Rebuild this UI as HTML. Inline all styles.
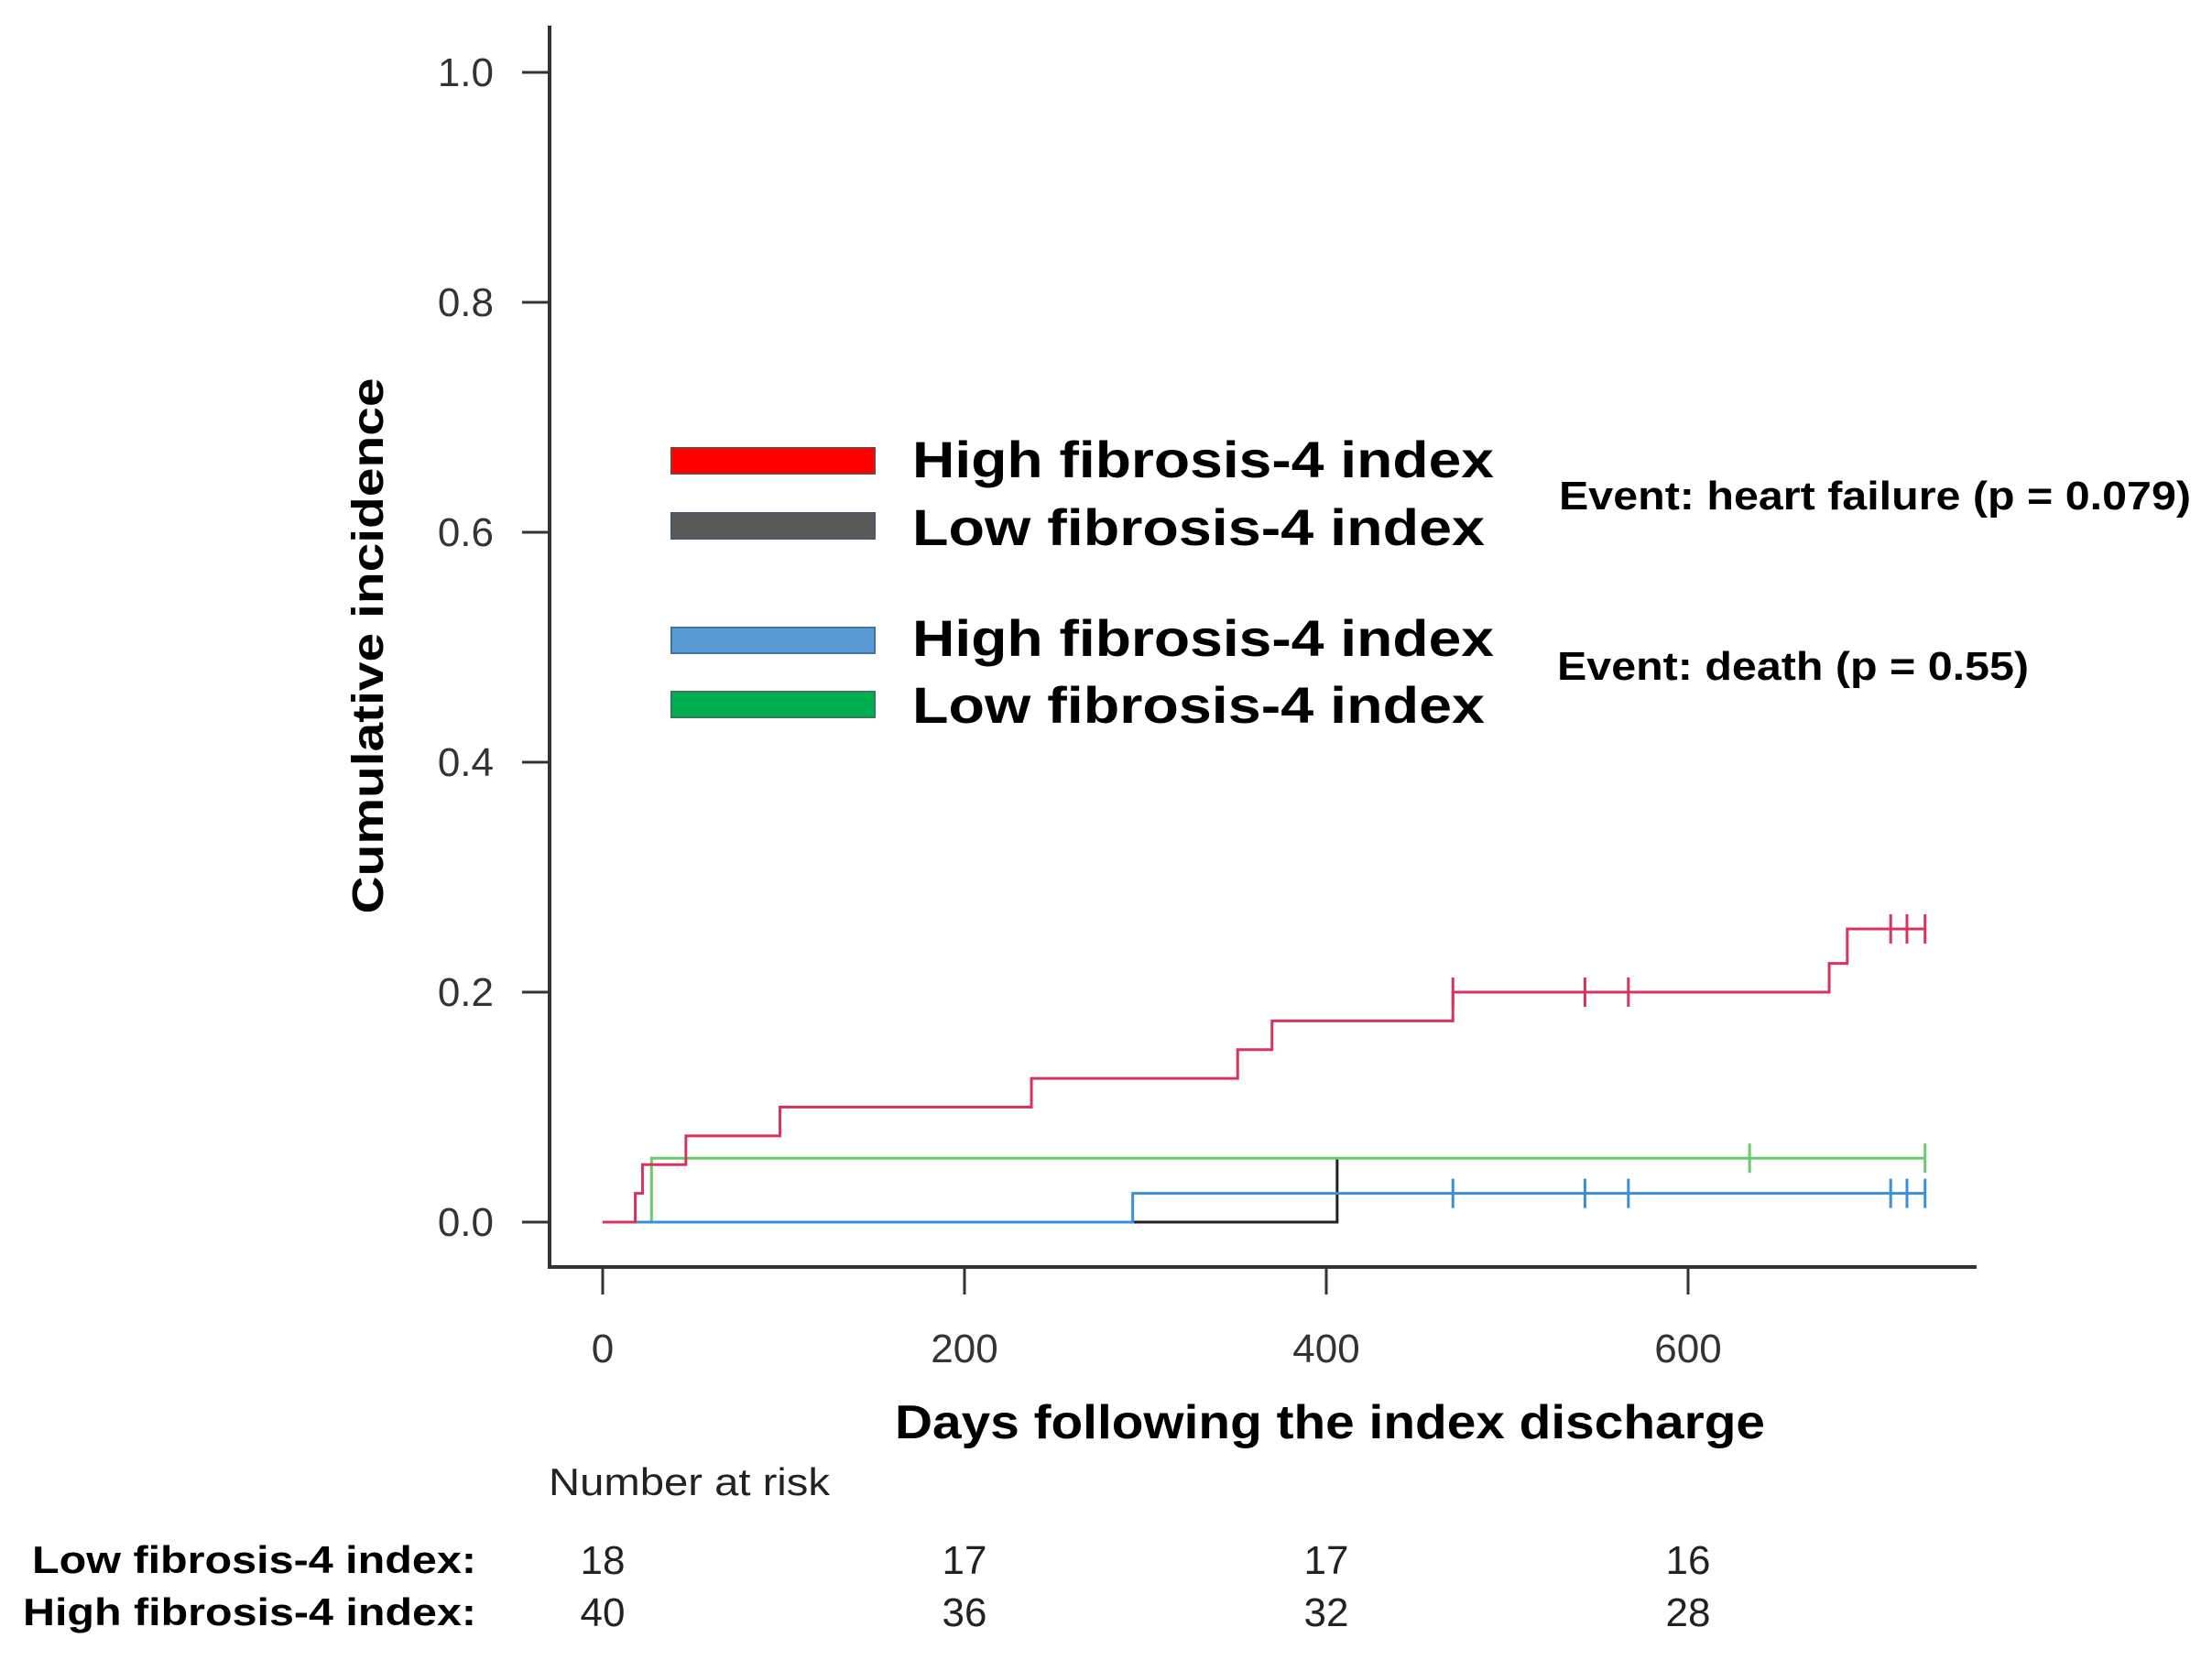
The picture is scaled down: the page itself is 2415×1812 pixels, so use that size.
<!DOCTYPE html>
<html><head><meta charset="utf-8"><style>
html,body{margin:0;padding:0;background:#fff;}
svg{display:block;font-family:"Liberation Sans",sans-serif;}
</style></head><body>
<svg id="chart" width="2415" height="1812" viewBox="0 0 2415 1812">
<g id="axes"></g>
<g id="series"></g>
<g>
 <rect x="733" y="489" width="222" height="28" fill="#ff0000" stroke="#8a3a3a" stroke-width="2"/>
 <rect x="733" y="560" width="222" height="28" fill="#595959" stroke="#4a5570" stroke-width="2"/>
 <rect x="733" y="685" width="222" height="28" fill="#5b9bd5" stroke="#41719c" stroke-width="2"/>
 <rect x="733" y="755" width="222" height="28" fill="#00b050" stroke="#2e7d5a" stroke-width="2"/>
 <text x="996" y="521" font-size="56" font-weight="bold" textLength="635" lengthAdjust="spacingAndGlyphs">High fibrosis-4 index</text>
 <text x="996" y="595" font-size="56" font-weight="bold" textLength="625" lengthAdjust="spacingAndGlyphs">Low fibrosis-4 index</text>
 <text x="996" y="716" font-size="56" font-weight="bold" textLength="635" lengthAdjust="spacingAndGlyphs">High fibrosis-4 index</text>
 <text x="996" y="789" font-size="56" font-weight="bold" textLength="625" lengthAdjust="spacingAndGlyphs">Low fibrosis-4 index</text>
 <text x="1702" y="556" font-size="44" font-weight="bold" textLength="690" lengthAdjust="spacingAndGlyphs">Event: heart failure (p = 0.079)</text>
 <text x="1700" y="742" font-size="44" font-weight="bold" textLength="515" lengthAdjust="spacingAndGlyphs">Event: death (p = 0.55)</text>
</g>
<text x="0" y="0" transform="translate(418,705) rotate(-90)" text-anchor="middle" font-size="48" font-weight="bold" textLength="585" lengthAdjust="spacingAndGlyphs">Cumulative incidence</text>
<text x="1452" y="1570" text-anchor="middle" font-size="52" font-weight="bold" textLength="950" lengthAdjust="spacingAndGlyphs">Days following the index discharge</text>
<text x="599" y="1632" font-size="42" fill="#222" textLength="307" lengthAdjust="spacingAndGlyphs">Number at risk</text>
<text x="520" y="1717" text-anchor="end" font-size="42" font-weight="bold" textLength="485" lengthAdjust="spacingAndGlyphs">Low fibrosis-4 index:</text>
<text x="520" y="1774" text-anchor="end" font-size="42" font-weight="bold" textLength="495" lengthAdjust="spacingAndGlyphs">High fibrosis-4 index:</text>
<g id="risk"></g>
</svg>
<script>
const yTicks=[0,0.2,0.4,0.6,0.8,1.0];
const xTicks=[0,200,400,600];
const riskDays=[0,200,400,600];
const riskLow=[18,17,17,16];
const riskHigh=[40,36,32,28];
// step series: [day, value] change points
const redHF=[[0,0],[18,0],[18,0.025],[22,0.05],[46,0.075],[98,0.1],[237,0.125],[351,0.15],[370,0.175],[470,0.2],[678,0.225],[688,0.255],[731,0.255]];
const redHFCens=[470,543,567,712,721,731];
const blackHF=[[18,0],[406,0],[406,0.0556]];
const blackHFCens=[];
const blueDeath=[[0,0],[293,0],[293,0.025],[731,0.025]];
const blueDeathCens=[470,543,567,712,721,731];
const greenDeath=[[27,0],[27,0.0556],[731,0.0556]];
const greenDeathCens=[634,731];

const NS='http://www.w3.org/2000/svg';
const X=d=>658+d*1.975;
const Y=v=>1334-v*1255;
function mk(tag,attrs,parent){const e=document.createElementNS(NS,tag);for(const k in attrs)e.setAttribute(k,attrs[k]);parent.appendChild(e);return e;}
const axes=document.getElementById('axes');
let yl=mk('line',{x1:600,y1:28,x2:600,y2:1383,stroke:'#333','stroke-width':4},axes);


let xl=mk('line',{x1:598,y1:1383,x2:2158,y2:1383,stroke:'#333','stroke-width':4},axes);


yTicks.forEach(v=>{
 const t=mk('line',{x1:570,y1:Y(v),x2:600,y2:Y(v),stroke:'#333','stroke-width':3},axes);
 
 
 const l=mk('text',{x:539,y:Y(v)+15,'text-anchor':'end','font-size':44,fill:'#333'},axes);
 l.textContent=v.toFixed(1);
 
 
});
xTicks.forEach(d=>{
 const t=mk('line',{x1:X(d),y1:1383,x2:X(d),y2:1413,stroke:'#333','stroke-width':3},axes);
 
 
 const l=mk('text',{x:X(d),y:1487,'text-anchor':'middle','font-size':44,fill:'#333'},axes);
 l.textContent=d;
 
 
});
const ser=document.getElementById('series');
function drawStep(pts,cens,color,name){
 let d='M'+X(pts[0][0])+' '+Y(pts[0][1]);
 for(let i=1;i<pts.length;i++){d+=' L'+X(pts[i][0])+' '+Y(pts[i-1][1])+' L'+X(pts[i][0])+' '+Y(pts[i][1]);}
 const p=mk('path',{d:d,fill:'none',stroke:color,'stroke-width':3},ser);
 
 
 const valAt=t=>{let v=0;pts.forEach(q=>{if(q[0]<=t)v=q[1];});return v;};
 cens.forEach(c=>{
  const m=mk('line',{x1:X(c),y1:Y(valAt(c))-16,x2:X(c),y2:Y(valAt(c))+16,stroke:color,'stroke-width':3},ser);
  
  
 });
}
drawStep(blackHF,blackHFCens,'#222','low-fib4-heart-failure');
drawStep(greenDeath,greenDeathCens,'#6cc86c','low-fib4-death');
drawStep(blueDeath,blueDeathCens,'#3a8fdc','high-fib4-death');
drawStep(redHF,redHFCens,'#d8335e','high-fib4-heart-failure');
const risk=document.getElementById('risk');
riskDays.forEach((d,i)=>{
 const a=mk('text',{x:X(d),y:1718,'text-anchor':'middle','font-size':44,fill:'#222'},risk);
 a.textContent=riskLow[i];
 
 
 const b=mk('text',{x:X(d),y:1775,'text-anchor':'middle','font-size':44,fill:'#222'},risk);
 b.textContent=riskHigh[i];
 
 
});
</script>
</body></html>
